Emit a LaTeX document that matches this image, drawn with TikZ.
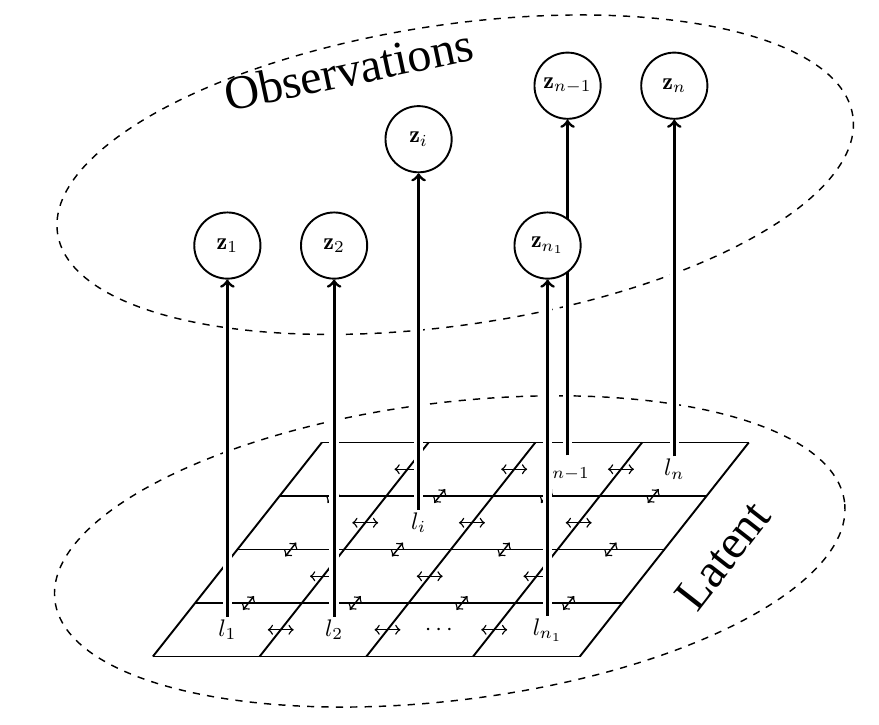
\documentclass[tikz,border=0pt]{standalone}
\usepackage{amsmath}
\usepackage{fontspec}
\newfontfamily\titlefont{Liberation Serif}
\usetikzlibrary{arrows,positioning,calc}
\pgfdeclarelayer{front}
\pgfsetlayers{main,front}

\tikzset{
  obs/.style={circle, draw, thick, fill=white, minimum size=0.97cm, inner sep=0pt},
  lat/.style={inner sep=1pt},
  emit/.style={->, very thick, preaction={draw=white, line width=4pt, -}},
  gridline/.style={thick},
  hop/.style={<->, semithick},
  region/.style={dashed, semithick},
  title/.style={font=\titlefont\fontsize{20}{24}\selectfont}
}

\begin{document}
\begin{tikzpicture}
  \useasboundingbox (-2.24,-1.0) rectangle (10.64,9.62);

  % Regions
  \draw[region, rotate around={8.4:(4.43,7.06)}] (4.43,7.06) ellipse (5.89 and 2.2);
  \draw[region, rotate around={7.1:(4.35,1.54)}] (4.35,1.54) ellipse (5.83 and 2.18);
  \node[title, rotate=12] (obstitle) at (2.87,8.60) {Observations};
  \node[title, rotate=52] (lattitle) at (8.35,1.48) {Latent};

  % Lattice
  \begin{scope}[x={(1.564cm,0cm)}, y={(0.619cm,0.784cm)}]
    \foreach \v in {0,...,4}
      \draw[gridline] (0,\v) -- (4,\v);
    \foreach \u in {0,...,4}
      \draw[gridline] (\u,0) -- (\u,4);

    % neighbour links
    \foreach \u in {1,2,3}
      \foreach \v in {0.5,1.5,2.5,3.5}
        \draw[hop] (\u,\v) ++(-0.19cm,0cm) -- ++(0.38cm,0cm);
    \foreach \u in {0.5,1.5,2.5,3.5}
      \foreach \v in {1,2,3}
        \draw[hop] (\u,\v-0.13) -- (\u,\v+0.13);

    % latent variables
    \node[lat] (l1) at (0.5,0.5) {$l_1$};
    \node[lat] (l2) at (1.5,0.5) {$l_2$};
    \node[lat] (ldots) at (2.5,0.5) {$\cdots$};
    \node[lat] (ln1) at (3.5,0.5) {$l_{n_1}$};
    \node[lat] (li) at (1.5,2.5) {$l_i$};
    \node[lat] (lnm) at (2.5,3.5) {$l_{n-1}$};
    \node[lat] (ln) at (3.5,3.5) {$l_n$};
  \end{scope}

  % Observations
  \begin{pgfonlayer}{front}
    \node[obs] (z1) at ($(l1)+(0,5.63)$) {$\mathbf{z}_1$};
    \node[obs] (z2) at ($(l2)+(0,5.63)$) {$\mathbf{z}_2$};
    \node[obs] (zi) at ($(li)+(0,5.62)$) {$\mathbf{z}_i$};
    \node[obs] (zn1) at ($(ln1)+(0,5.63)$) {$\mathbf{z}_{n_1}$};
    \node[obs] (znm) at ($(lnm)+(0,5.62)$) {$\mathbf{z}_{n-1}$};
    \node[obs] (zn) at ($(ln)+(0,5.62)$) {$\mathbf{z}_n$};
  \end{pgfonlayer}

  % Emissions
  \draw[emit] (l1) -- (z1);
  \draw[emit] (l2) -- (z2);
  \draw[emit] (li) -- (zi);
  \draw[emit] (lnm) -- (znm);
  \draw[emit] (ln) -- (zn);
  \draw[emit] (ln1) -- (zn1);
\end{tikzpicture}
\end{document}
